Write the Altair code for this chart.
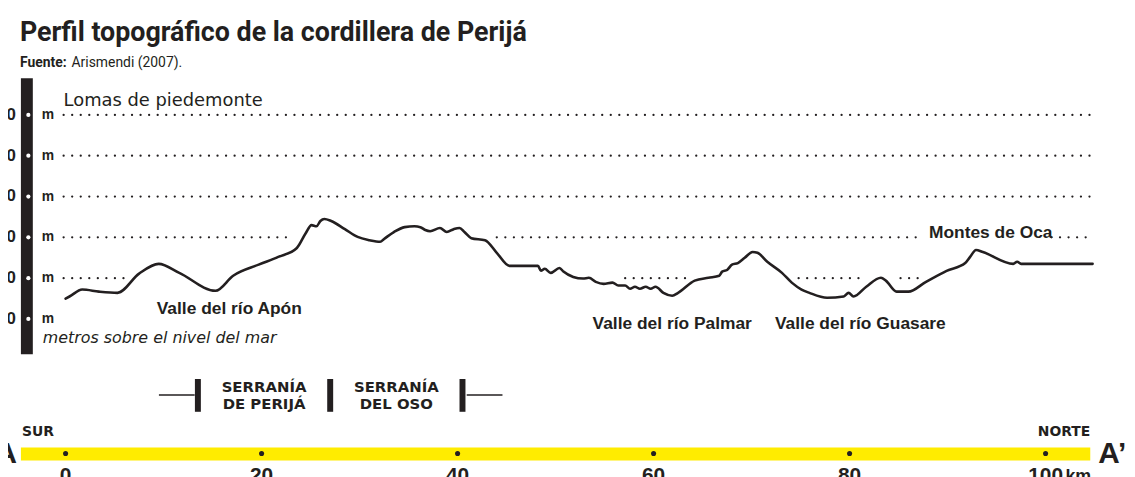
import altair as alt
import pandas as pd

INK = "#231f20"
YELLOW = "#ffec00"

# ---------------- data ----------------
prof_km = [0.0, 0.4, 1.7, 3.4, 5.3, 7.5, 9.5, 11.6, 15.3, 17.1, 19.7, 21.7, 23.6, 24.5, 25.1,
           25.6, 26.0, 26.4, 27.1, 28.5, 29.8, 31.0, 32.1, 32.5, 33.5, 34.6, 35.6, 36.2, 36.7,
           37.2, 38.2, 38.9, 39.6, 40.2, 40.7, 41.4, 42.8, 44.0, 45.3, 48.2, 48.5, 48.9, 49.5,
           50.4, 50.8, 51.8, 52.8, 53.4, 54.1, 54.9, 55.8, 56.4, 57.1, 57.6, 58.1, 58.6, 59.2,
           59.7, 60.2, 61.0, 61.9, 62.5, 64.2, 65.6, 66.7, 67.0, 67.5, 68.0, 68.6, 69.3, 70.1,
           70.6, 71.6, 73.1, 74.1, 75.1, 75.9, 77.7, 79.4, 79.9, 80.4, 81.7, 83.2, 83.7, 84.8,
           86.0, 87.8, 89.9, 91.8, 92.3, 92.9, 93.6, 96.7, 97.1, 97.5, 104.8]
prof_elev = [500, 550, 720, 670, 640, 1110, 1350, 1130, 690, 1060, 1330, 1520, 1740, 2100, 2300,
             2270, 2400, 2450, 2400, 2200, 2010, 1930, 1890, 1960, 2130, 2250, 2270, 2250, 2180,
             2150, 2230, 2130, 2200, 2230, 2130, 1980, 1930, 1620, 1300, 1300, 1180, 1230, 1130,
             1250, 1160, 1030, 990, 1010, 910, 860, 890, 820, 820, 740, 790, 740, 790,
             740, 790, 640, 570, 640, 940, 1010, 1060, 1160, 1200, 1330, 1370, 1500, 1640,
             1620, 1400, 1130, 890, 720, 640, 520, 550, 640, 550, 790, 1010, 940, 670,
             670, 910, 1180, 1370, 1520, 1690, 1640, 1350, 1400, 1350, 1350]

levels = [0, 1000, 2000, 3000, 4000, 5000]
level_labels = ["0", "1000", "2000", "3000", "4000", "5000"]

grid_level = [5000, 4000, 3000, 2000, 2000, 2000, 1000, 1000, 1000, 1000]
grid_start = [-0.2, -0.2, -0.2, -0.2, 44.0, 100.6, -0.2, 57.1, 74.8, 85.2]
grid_end = [104.7, 104.7, 104.7, 23.2, 87.0, 104.7, 6.0, 63.4, 81.4, 87.2]

place_names = ["Valle del río Apón", "Valle del río Palmar", "Valle del río Guasare", "Montes de Oca"]
place_km = [16.7, 61.9, 81.1, 94.4]
place_elev = [231, -134, -134, 2104]

serr_bounds_km = [13.5, 27.0, 40.5]
serr_line1 = ["SERRANÍA", "SERRANÍA"]
serr_line2 = ["DE PERIJÁ", "DEL OSO"]
serr_center_km = [20.25, 33.75]

tick_km = [0, 20, 40, 60, 80, 100]
tick_labels = ["0", "20", "40", "60", "80", "100"]

# ---------------- scales ----------------
xs = alt.Scale(domain=[0, 100], range=[58, 1045], clamp=False, nice=False, zero=False)
ys = alt.Scale(domain=[0, 5000], range=[311.5, 106], clamp=False, nice=False, zero=False)


def X(f):
    return alt.X(f, type="quantitative", scale=xs, axis=None)


def Y(f):
    return alt.Y(f, type="quantitative", scale=ys, axis=None)


def txt(s, x, y, size, weight="normal", font="Liberation Sans", align="left",
        baseline="alphabetic", style="normal", color=INK):
    return alt.Chart(pd.DataFrame({"t": [s]})).mark_text(
        align=align, baseline=baseline, font=font, fontSize=size, fontWeight=weight,
        fontStyle=style, color=color
    ).encode(x=alt.value(x), y=alt.value(y), text="t:N")


prof = pd.DataFrame({"km": prof_km, "elev": prof_elev})
lev = pd.DataFrame({"elev": levels, "lab": level_labels})
grid = pd.DataFrame({"elev": grid_level, "s": grid_start, "e": grid_end})
places = pd.DataFrame({"name": place_names, "km": place_km, "elev": place_elev})
serr_b = pd.DataFrame({"km": serr_bounds_km})
serr_t = pd.DataFrame({"a": serr_line1, "b": serr_line2, "km": serr_center_km})
ticks = pd.DataFrame({"km": tick_km, "lab": tick_labels})

layers = []

# title + source
layers.append(txt("Perfil topográfico de la cordillera de Perijá", 12, 32, 27, "bold", "Roboto"))
layers.append(txt("Fuente:", 12, 58, 14, "bold", "Roboto"))
layers.append(txt("Arismendi (2007).", 64, 58, 14, "normal", "Roboto"))

# black vertical bar
layers.append(alt.Chart(pd.DataFrame({"v": [0]})).mark_rule(color=INK, strokeWidth=12, strokeCap="butt").encode(
    x=alt.value(19), y=alt.value(69), y2=alt.value(347)))

# dotted level lines
layers.append(alt.Chart(grid).mark_rule(color=INK, strokeWidth=2.3, strokeDash=[0.01, 8.6], strokeCap="round").encode(
    x=X("s"), x2="e", y=Y("elev")))

# white dots on bar
layers.append(alt.Chart(lev).mark_point(filled=True, color="white", size=18, opacity=1).encode(
    x=alt.value(20.5), y=Y("elev")))

# elevation numbers (cut at the left edge, as in the original crop) and unit
layers.append(alt.Chart(lev).mark_text(align="right", baseline="middle", font="Liberation Sans",
                                       fontWeight="bold", fontSize=17, color=INK).encode(
    x=alt.value(8), y=Y("elev"), text="lab:N"))
layers.append(alt.Chart(lev).mark_text(align="left", baseline="middle", font="Liberation Sans",
                                       fontWeight="bold", fontSize=14, color=INK).encode(
    x=alt.value(34), y=Y("elev"), text=alt.value("m")))

# profile
layers.append(alt.Chart(prof).mark_line(color=INK, strokeWidth=2.6, interpolate="monotone",
                                        strokeJoin="round", strokeCap="round").encode(
    x=X("km"), y=Y("elev")))

# annotations
layers.append(txt("Lomas de piedemonte", 56, 92, 18, "normal", "DejaVu Sans", baseline="middle"))
layers.append(txt("metros sobre el nivel del mar", 35, 331, 16, "normal", "DejaVu Sans",
                  baseline="middle", style="italic"))
layers.append(alt.Chart(places).mark_text(align="center", baseline="middle", font="Liberation Sans",
                                          fontWeight="bold", fontSize=17.5, color=INK).encode(
    x=X("km"), y=Y("elev"), text="name:N"))

# serranías
layers.append(alt.Chart(serr_b).mark_rule(color=INK, strokeWidth=6, strokeCap="butt").encode(
    x=X("km"), y=alt.value(372), y2=alt.value(405)))
layers.append(alt.Chart(pd.DataFrame({"v": [0]})).mark_rule(color=INK, strokeWidth=1.5).encode(
    x=alt.value(152), x2=alt.value(188), y=alt.value(388)))
layers.append(alt.Chart(pd.DataFrame({"v": [0]})).mark_rule(color=INK, strokeWidth=1.5).encode(
    x=alt.value(462), x2=alt.value(498), y=alt.value(388)))
layers.append(alt.Chart(serr_t).mark_text(align="center", baseline="middle", font="DejaVu Sans",
                                          fontWeight="bold", fontSize=15, color=INK).encode(
    x=X("km"), y=alt.value(380), text="a:N"))
layers.append(alt.Chart(serr_t).mark_text(align="center", baseline="middle", font="DejaVu Sans",
                                          fontWeight="bold", fontSize=15, color=INK).encode(
    x=X("km"), y=alt.value(397), text="b:N"))

# yellow scale band
layers.append(alt.Chart(pd.DataFrame({"v": [0]})).mark_rule(color=YELLOW, strokeWidth=13, strokeCap="butt").encode(
    x=alt.value(13), x2=alt.value(1090), y=alt.value(447.5)))
layers.append(alt.Chart(ticks).mark_point(filled=True, color=INK, size=26, opacity=1).encode(
    x=X("km"), y=alt.value(447)))
layers.append(alt.Chart(ticks).mark_text(align="center", baseline="alphabetic", font="Liberation Sans",
                                         fontWeight="bold", fontSize=21, color=INK).encode(
    x=X("km"), y=alt.value(476), text="lab:N"))
layers.append(txt("km", 1065, 476, 18, "bold", "Liberation Sans"))
layers.append(txt("SUR", 14, 425, 14, "bold", "DejaVu Sans", baseline="middle"))
layers.append(txt("NORTE", 1090, 425, 14, "bold", "DejaVu Sans", align="right", baseline="middle"))
layers.append(txt("A", 9, 457, 30, "bold", "Liberation Sans", align="right"))
layers.append(txt("A’", 1098, 457, 30, "bold", "Liberation Sans"))

chart = alt.layer(*layers).properties(
    width=1127, height=469,
    autosize=alt.AutoSizeParams(type="none"),
    padding=0,
    background="white",
).configure_view(stroke=None)

chart.save("out.html", embed_options={"renderer": "svg", "actions": False})
